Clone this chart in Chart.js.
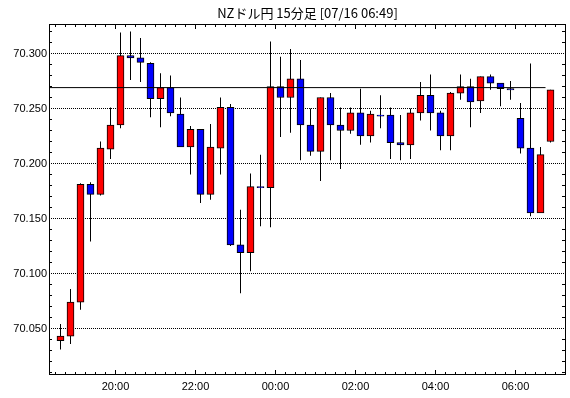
<!DOCTYPE html>
<html>
<head>
<meta charset="utf-8">
<script src="https://cdn.jsdelivr.net/npm/chart.js@4"></script>
<style>
    body { margin: 0; background: #ffffff; }
    canvas { display: block; }
</style>
</head>
<body>
<canvas id="chart" width="570" height="398"></canvas>
<script>
const title = 'NZドル円 15分足 [07/16 06:49]';

// 15 min bars, start time of each bar
const times = [
    '18:30', '18:45', '19:00', '19:15', '19:30', '19:45', '20:00', '20:15', '20:30', '20:45',
    '21:00', '21:15', '21:30', '21:45', '22:00', '22:15', '22:30', '22:45', '23:00', '23:15',
    '23:30', '23:45', '00:00', '00:15', '00:30', '00:45', '01:00', '01:15', '01:30', '01:45',
    '02:00', '02:15', '02:30', '02:45', '03:00', '03:15', '03:30', '03:45', '04:00', '04:15',
    '04:30', '04:45', '05:00', '05:15', '05:30', '05:45', '06:00', '06:15', '06:30', '06:45'
];
const opens = [
    70.039, 70.043, 70.074, 70.181, 70.172, 70.213, 70.235, 70.298, 70.296, 70.291,
    70.259, 70.269, 70.245, 70.215, 70.231, 70.172, 70.214, 70.251, 70.126, 70.119,
    70.179, 70.178, 70.270, 70.260, 70.277, 70.235, 70.211, 70.260, 70.235, 70.230,
    70.246, 70.225, 70.244, 70.244, 70.219, 70.217, 70.246, 70.262, 70.246, 70.225,
    70.264, 70.270, 70.257, 70.279, 70.273, 70.268, 70.241, 70.214, 70.155, 70.220
];
const highs = [
    70.054, 70.086, 70.182, 70.183, 70.220, 70.251, 70.319, 70.320, 70.314, 70.292,
    70.282, 70.280, 70.260, 70.234, 70.231, 70.236, 70.260, 70.254, 70.158, 70.191,
    70.208, 70.311, 70.297, 70.304, 70.294, 70.250, 70.260, 70.264, 70.251, 70.251,
    70.268, 70.248, 70.262, 70.251, 70.244, 70.250, 70.274, 70.281, 70.248, 70.265,
    70.281, 70.277, 70.279, 70.281, 70.273, 70.275, 70.255, 70.291, 70.215, 70.267
];
const lows = [
    70.031, 70.036, 70.067, 70.129, 70.171, 70.204, 70.232, 70.276, 70.274, 70.242,
    70.233, 70.243, 70.215, 70.190, 70.164, 70.167, 70.190, 70.125, 70.082, 70.102,
    70.143, 70.142, 70.224, 70.228, 70.203, 70.207, 70.184, 70.203, 70.195, 70.227,
    70.217, 70.219, 70.232, 70.204, 70.203, 70.204, 70.239, 70.230, 70.212, 70.212,
    70.258, 70.233, 70.246, 70.267, 70.252, 70.258, 70.209, 70.152, 70.155, 70.219
];
const closes = [
    70.043, 70.074, 70.181, 70.172, 70.214, 70.235, 70.298, 70.296, 70.292, 70.259,
    70.269, 70.246, 70.215, 70.231, 70.172, 70.215, 70.251, 70.126, 70.119, 70.179,
    70.178, 70.270, 70.260, 70.277, 70.235, 70.211, 70.260, 70.235, 70.230, 70.246,
    70.225, 70.245, 70.243, 70.219, 70.217, 70.246, 70.262, 70.246, 70.225, 70.264,
    70.270, 70.256, 70.279, 70.273, 70.268, 70.267, 70.214, 70.155, 70.208, 70.267
];
const priceLine = 70.269;
const priceLineEnd = '06:45';

const xTickLabels = ['20:00', '22:00', '00:00', '02:00', '04:00', '06:00'];
const yTickValues = [70.05, 70.10, 70.15, 70.20, 70.25, 70.30];

// minutes since 18:00, times after midnight roll over
function toMinutes(t) {
    const [h, m] = t.split(':').map(Number);
    return (h < 18 ? h + 24 - 18 : h - 18) * 60 + m;
}

const X_MIN = 20.25;
const X_MAX = 795.75;
const Y_MIN = 70.007727;
const Y_MAX = 70.326818;

const bodies = times.map((t, i) => ({ x: toMinutes(t) + 7.5, y: [opens[i], closes[i]] }));
const wicks = times.map((t, i) => ({ x: toMinutes(t) + 7.5, y: [lows[i], highs[i]] }));
const bodyColors = times.map((t, i) => closes[i] >= opens[i] ? '#ff0000' : '#0000ff');

const frameAndTicks = {
    id: 'frameAndTicks',
    afterDatasetsDraw(chart) {
        const { ctx, chartArea: a, scales: { x, y } } = chart;
        ctx.save();
        ctx.strokeStyle = '#000000';
        ctx.lineWidth = 1;
        ctx.beginPath();
        for (let m = 30; m < X_MAX - 1; m += 15) {
            const px = Math.floor(x.getPixelForValue(m)) + 0.5;
            const len = m % 120 === 0 ? 5 : 3;
            ctx.moveTo(px, a.top);
            ctx.lineTo(px, a.top + len);
            ctx.moveTo(px, a.bottom);
            ctx.lineTo(px, a.bottom - len);
        }
        for (let k = 1; k <= 32; k++) {
            if (k % 5 === 0) continue;
            const py = Math.floor(y.getPixelForValue(70 + k / 100)) + 0.5;
            ctx.moveTo(a.left, py);
            ctx.lineTo(a.left + 3, py);
            ctx.moveTo(a.right, py);
            ctx.lineTo(a.right - 4, py);
        }
        ctx.stroke();
        ctx.strokeRect(a.left + 0.5, a.top + 0.5, a.right - a.left - 1, a.bottom - a.top - 1);

        ctx.fillStyle = '#000000';
        ctx.font = '13px "Noto Sans CJK JP"';
        ctx.textAlign = 'center';
        ctx.textBaseline = 'middle';
        ctx.fillText(title, (a.left + a.right) / 2, 13);
        ctx.restore();
    }
};

new Chart(document.getElementById('chart'), {
    type: 'bar',
    data: {
        datasets: [
            {
                type: 'line',
                data: [{ x: X_MIN, y: priceLine }, { x: toMinutes(priceLineEnd), y: priceLine }],
                borderColor: '#000000',
                borderWidth: 1,
                pointRadius: 0,
                order: 0
            },
            {
                data: bodies,
                backgroundColor: bodyColors,
                borderColor: '#000000',
                borderWidth: 1,
                borderSkipped: false,
                barThickness: 7,
                grouped: false,
                order: 1
            },
            {
                data: wicks,
                backgroundColor: '#000000',
                borderWidth: 0,
                inflateAmount: 0,
                barThickness: 1,
                grouped: false,
                order: 2
            }
        ]
    },
    options: {
        responsive: false,
        animation: false,
        devicePixelRatio: 1,
        layout: { padding: { top: 24, right: 4, left: 0, bottom: 0 } },
        plugins: {
            legend: { display: false },
            title: { display: false },
            tooltip: { enabled: false }
        },
        scales: {
            x: {
                type: 'linear',
                min: X_MIN,
                max: X_MAX,
                offset: false,
                grid: { display: false, drawTicks: false, offset: false },
                border: { display: false },
                afterBuildTicks: (scale) => {
                    scale.ticks = xTickLabels.map(l => ({ value: toMinutes(l) }));
                },
                afterFit: (scale) => { scale.height = 23; },
                ticks: {
                    autoSkip: false,
                    maxRotation: 0,
                    padding: 5,
                    color: '#000000',
                    font: { family: '"Liberation Sans"', size: 11 },
                    callback: (value, index) => xTickLabels[index]
                }
            },
            y: {
                min: Y_MIN,
                max: Y_MAX,
                grid: { color: '#000000', lineWidth: 1, drawTicks: false },
                border: { display: false, dash: [1, 1] },
                afterBuildTicks: (scale) => {
                    scale.ticks = yTickValues.map(v => ({ value: v }));
                },
                afterFit: (scale) => { scale.width = 49; },
                ticks: {
                    padding: 2,
                    color: '#000000',
                    font: { family: '"Liberation Sans"', size: 11 },
                    callback: (value) => value.toFixed(3)
                }
            }
        }
    },
    plugins: [frameAndTicks]
});
</script>
</body>
</html>
